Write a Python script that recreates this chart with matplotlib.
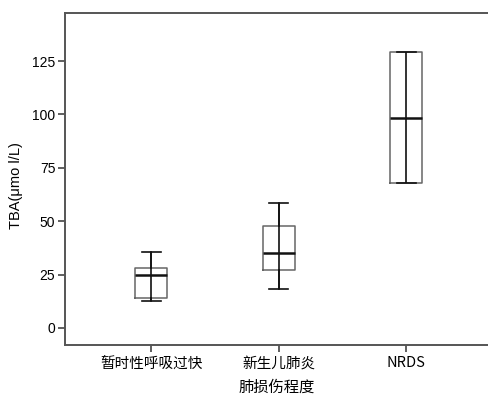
import matplotlib
matplotlib.use("Agg")
import matplotlib.pyplot as plt

plt.rcParams['font.family'] = ['Noto Sans CJK SC', 'DejaVu Sans']

categories = ["暂时性呼吸过快", "新生儿肺炎", "NRDS"]
whislo = [12.5, 18.3, 68.0]
q1 = [14.2, 27.3, 68.0]
med = [24.7, 35.0, 98.5]
q3 = [28.2, 47.9, 129.4]
whishi = [35.4, 58.4, 129.4]
yticks = [0, 25, 50, 75, 100, 125]

fig = plt.figure(figsize=(4.89, 3.97), dpi=100)
ax = fig.add_axes([65/489, 52/397, 1 - 65/489, (345-13)/397])

pos = list(range(1, len(categories) + 1))
stats = [dict(whislo=a, q1=b, med=c, q3=d, whishi=e, label=l)
         for a, b, c, d, e, l in zip(whislo, q1, med, q3, whishi, categories)]
ax.vlines(pos, whislo, whishi, colors='#111111', lw=1.2, zorder=3)
ax.bxp(stats, positions=pos, widths=0.25, showfliers=False,
       boxprops=dict(color='#666666', lw=1.1),
       whiskerprops=dict(color='#111111', lw=1.2),
       capprops=dict(color='#111111', lw=1.2),
       medianprops=dict(color='#111111', lw=1.8),
       capwidths=0.15)

ax.set_xlim(0.325, 3.65)
ax.set_ylim(-8, 147.5)
ax.set_yticks(yticks)
ax.set_yticklabels([str(v) for v in yticks], family=['Liberation Sans', 'DejaVu Sans'], fontsize=10)
ax.set_xticks(pos)
ax.set_xticklabels(categories, fontsize=10.5)
ax.tick_params(axis='y', length=5, width=1.2, color='#444444', pad=2)
ax.tick_params(axis='x', length=5, width=1.2, color='#444444', pad=3)
ax.spines['right'].set_visible(False)
for s in ['left', 'top', 'bottom']:
    ax.spines[s].set_color('#555555')
    ax.spines[s].set_linewidth(1.4)

ax.set_ylabel("TBA(μmo l/L)", fontsize=10.5,
              family=['Liberation Sans', 'DejaVu Sans'])
ax.yaxis.set_label_coords(-0.10, 0.48)
ax.set_xlabel("肺损伤程度", fontsize=11, labelpad=6)

fig.savefig("out.png", dpi=100)
